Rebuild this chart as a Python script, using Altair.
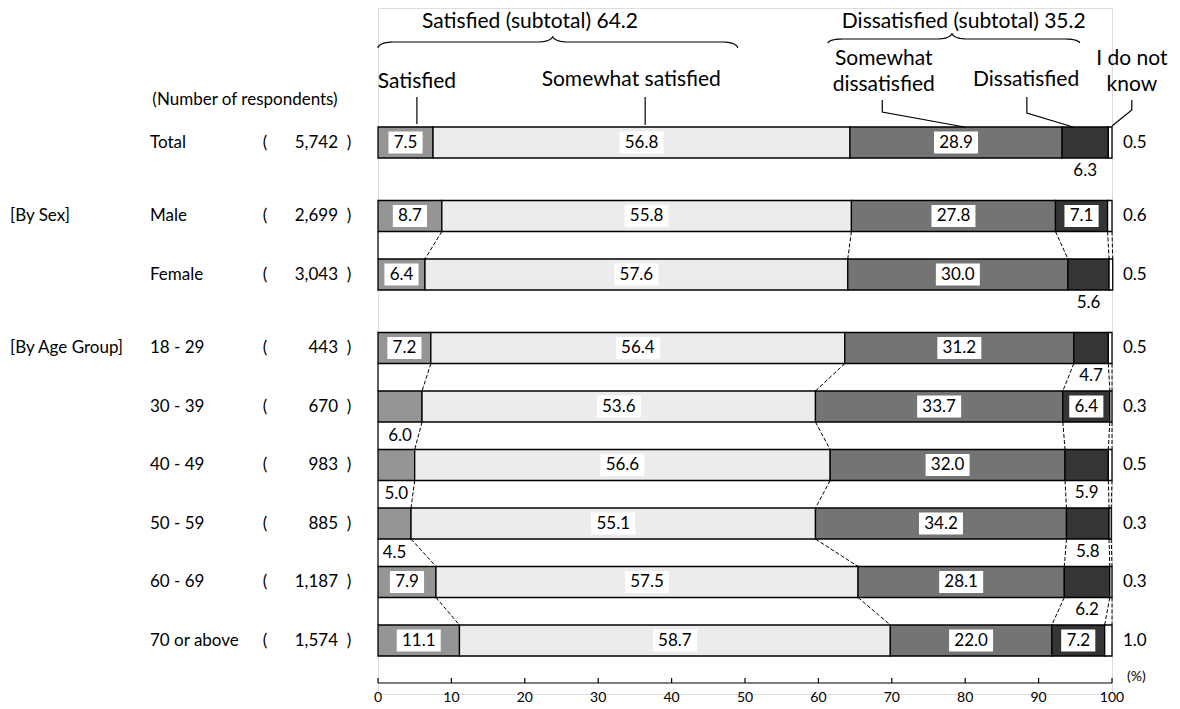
import math
import altair as alt
import pandas as pd

# ---------------- data ----------------
categories = ["Total", "Male", "Female", "18 - 29", "30 - 39", "40 - 49",
              "50 - 59", "60 - 69", "70 or above"]
group_of_row = [0, 1, 1, 2, 2, 2, 2, 2, 2]
group_labels = ["", "[By Sex]", "[By Age Group]"]
respondents = ["5,742", "2,699", "3,043", "443", "670", "983", "885", "1,187", "1,574"]

responses = ["Satisfied", "Somewhat satisfied", "Somewhat dissatisfied",
             "Dissatisfied", "I do not know"]
satisfied = [7.5, 8.7, 6.4, 7.2, 6.0, 5.0, 4.5, 7.9, 11.1]
somewhat_satisfied = [56.8, 55.8, 57.6, 56.4, 53.6, 56.6, 55.1, 57.5, 58.7]
somewhat_dissatisfied = [28.9, 27.8, 30.0, 31.2, 33.7, 32.0, 34.2, 28.1, 22.0]
dissatisfied = [6.3, 7.1, 5.6, 4.7, 6.4, 5.9, 5.8, 6.2, 7.2]
do_not_know = [0.5, 0.6, 0.5, 0.5, 0.3, 0.5, 0.3, 0.3, 1.0]

subtotal_satisfied = 64.2
subtotal_dissatisfied = 35.2
x_ticks = [0, 10, 20, 30, 40, 50, 60, 70, 80, 90, 100]

# ---------------- layout / style ----------------
FONT = "Lato"
W, H = 734, 686
ROW_START, ROW_PITCH, GROUP_GAP, BAR_H = 134.5, 58.5, 15, 31
fills = ["#959595", "#ececec", "#747474", "#353535", "#ffffff"]
INSIDE_MIN = 6.4
NUM_FS = 17

series = [satisfied, somewhat_satisfied, somewhat_dissatisfied, dissatisfied, do_not_know]
row_y = [ROW_START + i * ROW_PITCH + g * GROUP_GAP for i, g in enumerate(group_of_row)]

xs = alt.Scale(domain=[0, 100], nice=False, zero=False)
ys = alt.Scale(domain=[0, H], reverse=True, nice=False, zero=False)

seg_rows, box_rows, lab_rows, bounds = [], [], [], []
for i, cat in enumerate(categories):
    yc = row_y[i]
    cum = 0.0
    b = [0.0]
    for k, resp in enumerate(responses):
        v = series[k][i]
        x0, x1 = cum, cum + v
        seg_rows.append(dict(cat=cat, resp=resp, x0=x0, x1=x1,
                             yt=yc - BAR_H / 2, yb=yc + BAR_H / 2))
        txt = f"{v:.1f}"
        xc = (x0 + x1) / 2
        if k in (1, 2) or (k in (0, 3) and v >= INSIDE_MIN):
            half_px = (len(txt) - 1) * 0.29 * NUM_FS + 0.13 * NUM_FS + 5
            half = half_px / (W / 100)
            half = min(half, v / 2 - 0.6)
            box_rows.append(dict(x0=xc - half, x1=xc + half, yt=yc - 11, yb=yc + 11))
            lab_rows.append(dict(x=xc, y=yc, t=txt))
        elif k == 0:
            lab_rows.append(dict(x=xc, y=yc + 29, t=txt))
        elif k == 3:
            lab_rows.append(dict(x=xc, y=yc + 28, t=txt))
        cum = x1
        b.append(cum)
    bounds.append(b)

seg_df = pd.DataFrame(seg_rows)
box_df = pd.DataFrame(box_rows)
lab_df = pd.DataFrame(lab_rows)

# connectors between consecutive bars of the same group
con_rows = []
for i in range(len(categories) - 1):
    if group_of_row[i] != group_of_row[i + 1] or group_of_row[i] == 0:
        continue
    for k in range(len(bounds[i])):
        con_rows.append(dict(x=bounds[i][k], x2=bounds[i + 1][k],
                             y=row_y[i] + BAR_H / 2, y2=row_y[i + 1] - BAR_H / 2,
                             solid=(k == 0)))
con_df = pd.DataFrame(con_rows)

# right-hand "I do not know" values
dk_df = pd.DataFrame(dict(x=[100] * len(categories), y=row_y,
                          t=[f"{v:.1f}" for v in do_not_know]))

# left-hand table
left_df = pd.DataFrame(dict(y=row_y, cat=categories, n=respondents,
                            grp=[group_labels[g] if (i == 0 or group_of_row[i - 1] != g) else ""
                                 for i, g in enumerate(group_of_row)]))


# curly braces (decoration)
def brace(name, xa, xb, xm, y_end, y_line, y_tip, rx=2.0, n=10):
    pts = []
    q = [j / n * math.pi / 2 for j in range(n + 1)]
    for t in q:  # left end -> line
        pts.append((xa + rx * (1 - math.cos(t)), y_line + (y_end - y_line) * (1 - math.sin(t))))
    for t in q:  # line -> tip
        pts.append((xm - rx + rx * math.sin(t), y_line - (y_line - y_tip) * (1 - math.cos(t))))
    for t in q:  # tip -> line
        pts.append((xm + rx * (1 - math.cos(t)), y_tip + (y_line - y_tip) * math.sin(t)))
    for t in q:  # line -> right end
        pts.append((xb - rx + rx * math.sin(t), y_line + (y_end - y_line) * (1 - math.cos(t))))
    return [dict(b=name, o=idx, x=p[0], y=p[1]) for idx, p in enumerate(pts)]


brace_df = pd.DataFrame(brace("sat", 0.0, 49.0, 23.8, 40, 34, 28)
                        + brace("dis", 61.3, 95.6, 78.2, 35, 31, 25))

# leader lines
leaders = {
    "l1": [(5.3, 89), (5.3, 116)],
    "l2": [(36.4, 89), (36.4, 117)],
    "l3": [(68.7, 92), (68.7, 104), (79.9, 119)],
    "l4": [(88.4, 89), (88.4, 105), (94.7, 119)],
    "l5": [(102.7, 92), (102.7, 102), (100.0, 118)],
}
lead_df = pd.DataFrame([dict(l=k, o=j, x=p[0], y=p[1])
                        for k, v in leaders.items() for j, p in enumerate(v)])

head_df = pd.DataFrame([
    dict(x=20.7, y=14, t=f"Satisfied (subtotal) {subtotal_satisfied:.1f}"),
    dict(x=79.8, y=14, t=f"Dissatisfied (subtotal) {subtotal_dissatisfied:.1f}"),
    dict(x=5.3, y=74, t="Satisfied"),
    dict(x=34.5, y=72, t="Somewhat satisfied"),
    dict(x=68.9, y=51, t="Somewhat"),
    dict(x=68.9, y=77, t="dissatisfied"),
    dict(x=88.3, y=72, t="Dissatisfied"),
    dict(x=102.7, y=51, t="I do not"),
    dict(x=102.7, y=77, t="know"),
])

tick_df = pd.DataFrame(dict(x=x_ticks, y=[675] * len(x_ticks), y2=[670] * len(x_ticks),
                            t=[str(v) for v in x_ticks]))
axis_df = pd.DataFrame(dict(x=[0], x2=[100], y=[675]))

X = lambda f: alt.X(f, type="quantitative", scale=xs, axis=None)
Y = lambda f: alt.Y(f, type="quantitative", scale=ys, axis=None)

bars = alt.Chart(seg_df).mark_rect(stroke="black", strokeWidth=1.3).encode(
    x=X("x0"), x2="x1", y=Y("yt"), y2="yb",
    fill=alt.Fill("resp:N", scale=alt.Scale(domain=responses, range=fills), legend=None),
)
boxes = alt.Chart(box_df).mark_rect(fill="white").encode(
    x=X("x0"), x2="x1", y=Y("yt"), y2="yb")
labels = alt.Chart(lab_df).mark_text(font=FONT, fontSize=NUM_FS, color="black", baseline="middle").encode(
    x=X("x"), y=Y("y"), text="t:N")
cons_dash = alt.Chart(con_df[~con_df.solid]).mark_rule(color="black", strokeWidth=1, strokeDash=[4, 2]).encode(
    x=X("x"), x2="x2", y=Y("y"), y2="y2")
cons_solid = alt.Chart(con_df[con_df.solid]).mark_rule(color="black", strokeWidth=1.2).encode(
    x=X("x"), x2="x2", y=Y("y"), y2="y2")
dk = alt.Chart(dk_df).mark_text(font=FONT, fontSize=NUM_FS, align="left", dx=11, baseline="middle").encode(
    x=X("x"), y=Y("y"), text="t:N")

LFS = 17
left_cat = alt.Chart(left_df).mark_text(font=FONT, fontSize=LFS, align="left", baseline="middle").encode(
    x=alt.value(-228), y=Y("y"), text="cat:N")
left_grp = alt.Chart(left_df).mark_text(font=FONT, fontSize=LFS, align="left", baseline="middle").encode(
    x=alt.value(-368), y=Y("y"), text="grp:N")
left_open = alt.Chart(left_df).mark_text(font=FONT, fontSize=LFS, baseline="middle", text="(").encode(
    x=alt.value(-113), y=Y("y"))
left_n = alt.Chart(left_df).mark_text(font=FONT, fontSize=LFS, align="right", baseline="middle").encode(
    x=alt.value(-40), y=Y("y"), text="n:N")
left_close = alt.Chart(left_df).mark_text(font=FONT, fontSize=LFS, baseline="middle", text=")").encode(
    x=alt.value(-29), y=Y("y"))
nresp = alt.Chart(pd.DataFrame(dict(y=[92]))).mark_text(
    font=FONT, fontSize=17, baseline="middle", text="(Number of respondents)").encode(
    x=alt.value(-133), y=Y("y"))

braces = alt.Chart(brace_df).mark_line(color="black", strokeWidth=1.2).encode(
    x=X("x"), y=Y("y"), detail="b:N", order="o:Q")
leads = alt.Chart(lead_df).mark_line(color="black", strokeWidth=1.2).encode(
    x=X("x"), y=Y("y"), detail="l:N", order="o:Q")
heads = alt.Chart(head_df).mark_text(font=FONT, fontSize=21, baseline="middle").encode(
    x=X("x"), y=Y("y"), text="t:N")

axis_line = alt.Chart(axis_df).mark_rule(color="black", strokeWidth=1.2).encode(
    x=X("x"), x2="x2", y=Y("y"))
axis_ticks = alt.Chart(tick_df).mark_rule(color="black", strokeWidth=1.2).encode(
    x=X("x"), y=Y("y"), y2="y2")
axis_labels = alt.Chart(tick_df).mark_text(font=FONT, fontSize=14, baseline="middle").encode(
    x=X("x"), y=alt.value(690), text="t:N")
pct = alt.Chart(pd.DataFrame(dict(x=[100]))).mark_text(
    font=FONT, fontSize=14, align="left", dx=15, baseline="middle", text="(%)").encode(
    x=X("x"), y=alt.value(669))

chart = alt.layer(
    bars, boxes, labels, cons_dash, cons_solid, dk,
    left_cat, left_grp, left_open, left_n, left_close, nresp,
    braces, leads, heads, axis_line, axis_ticks, axis_labels, pct,
).properties(
    width=W, height=H,
    autosize=alt.AutoSizeParams(type="none"),
    padding={"left": 370, "top": 0, "right": 60, "bottom": 12},
).configure_view(stroke=None).configure(background="white")

chart.save("out.html", embed_options={"renderer": "svg", "actions": False})
